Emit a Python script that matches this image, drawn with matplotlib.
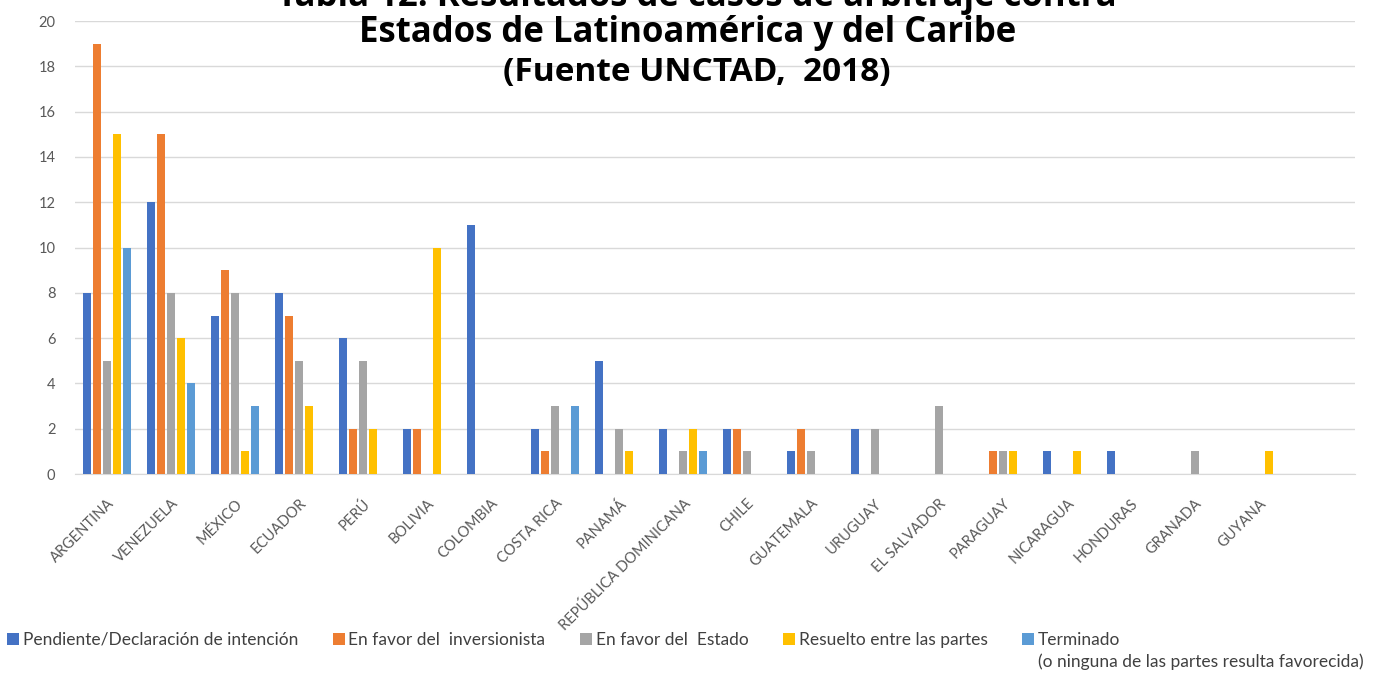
import numpy as np
import matplotlib
matplotlib.use("Agg")
import matplotlib.pyplot as plt

paises = ["ARGENTINA", "VENEZUELA", "MÉXICO", "ECUADOR", "PERÚ", "BOLIVIA",
          "COLOMBIA", "COSTA RICA", "PANAMÁ", "REPÚBLICA DOMINICANA", "CHILE",
          "GUATEMALA", "URUGUAY", "EL SALVADOR", "PARAGUAY", "NICARAGUA",
          "HONDURAS", "GRANADA", "GUYANA"]

pendiente = [8, 12, 7, 8, 6, 2, 11, 2, 5, 2, 2, 1, 2, 0, 0, 1, 1, 0, 0]
inversionista = [19, 15, 9, 7, 2, 2, 0, 1, 0, 0, 2, 2, 0, 0, 1, 0, 0, 0, 0]
estado = [5, 8, 8, 5, 5, 0, 0, 3, 2, 1, 1, 1, 2, 3, 1, 0, 0, 1, 0]
resuelto = [15, 6, 1, 3, 2, 10, 0, 0, 1, 2, 0, 0, 0, 0, 1, 1, 0, 0, 1]
terminado = [10, 4, 3, 0, 0, 0, 0, 3, 0, 1, 0, 0, 0, 0, 0, 0, 0, 0, 0]

series = [pendiente, inversionista, estado, resuelto, terminado]
nombres = ["Pendiente/Declaración de intención", "En favor del  inversionista",
           "En favor del  Estado", "Resuelto entre las partes", "Terminado"]
nota = "(o ninguna de las partes resulta favorecida)"
colores = ["#4472C4", "#ED7D31", "#A5A5A5", "#FFC000", "#5B9BD5"]

plt.rcParams["font.family"] = ["Lato", "DejaVu Sans"]

fig = plt.figure(figsize=(13.8, 6.77), dpi=100)
ax = fig.add_axes([0.0543, 0.2998, 0.9275, 0.669])

x = np.arange(len(paises))
paso = 0.156
ancho = 0.114
for i, (vals, nom, col) in enumerate(zip(series, nombres, colores)):
    ax.bar(x + (i - 2) * paso, vals, width=ancho, color=col, label=nom, zorder=3)

# 20 huecos en el eje, el ultimo vacio
ax.set_xlim(-0.5, 19.5)
ax.set_ylim(0, 20)
ax.set_yticks(range(0, 21, 2))
ax.grid(axis="y", color="#D9D9D9", linewidth=1, zorder=0)
for s in ["top", "right", "left"]:
    ax.spines[s].set_visible(False)
ax.spines["bottom"].set_color("#D9D9D9")
ax.tick_params(axis="y", length=0, labelsize=10.5, labelcolor="#595959", pad=14)
ax.tick_params(axis="x", length=0, pad=16)
ax.set_xticks(x)
ax.set_xticklabels(paises, rotation=45, ha="right", va="top",
                   rotation_mode="anchor", fontsize=10.5, color="#595959")

# titulo (la primera linea sale cortada arriba, como en el original)
tit = dict(ha="center", va="center", fontweight="bold",
           family=["Open Sans", "DejaVu Sans"])
fig.text(0.505, 1.004, "Tabla 12. Resultados de casos de arbitraje contra",
         fontsize=25, **tit)
fig.text(0.498, 0.951, "Estados de Latinoamérica y del Caribe", fontsize=25, **tit)
fig.text(0.505, 0.893, "(Fuente UNCTAD,  2018)", fontsize=24, **tit)

leg = fig.legend(loc="center left", bbox_to_anchor=(0.0, 0.0547), ncol=5,
                 frameon=False, fontsize=12.5, handlelength=0.7, handleheight=0.7,
                 handletextpad=0.2, columnspacing=2.0, borderaxespad=0,
                 labelcolor="#404040")

fig.canvas.draw()
bb = leg.get_texts()[4].get_window_extent()
fig.text(bb.x0 / fig.bbox.width, 0.022, nota, ha="left", va="center",
         fontsize=12.5, color="#404040")

fig.savefig("out.png", dpi=100)
